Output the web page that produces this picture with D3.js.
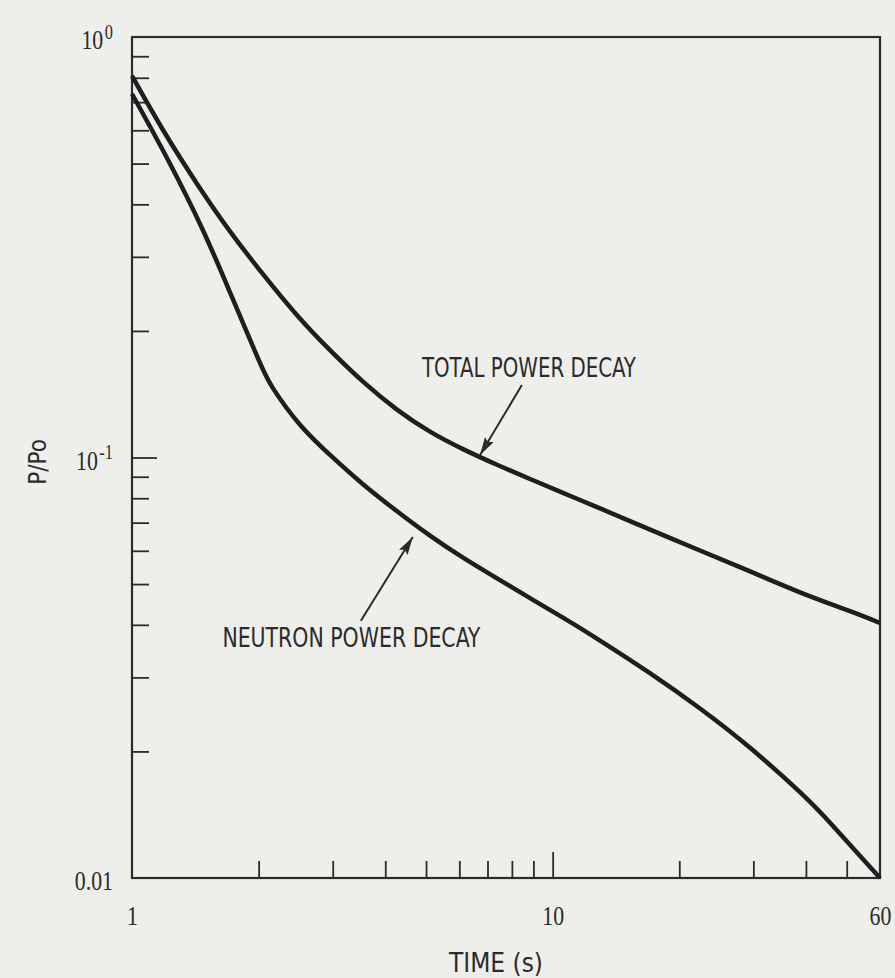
<!DOCTYPE html>
<html>
<head>
<meta charset="utf-8">
<script src="https://cdn.jsdelivr.net/npm/d3@7"></script>
<style>
    body { margin: 0; background: #eeeeeb; }
    svg { display: block; }
    .tick text { font-family: "Liberation Serif", "DejaVu Serif", serif; fill: #2b2b2b; }
    .note { font-family: "Liberation Sans Narrow", "DejaVu Sans Condensed", "Roboto Condensed", sans-serif; font-stretch: condensed; fill: #2b2b2b; }
</style>
</head>
<body>
<div class="container"></div>
<script>
// DATA
const timeTotal = [1, 1.185, 1.427, 1.71, 2.048, 2.468, 2.956, 3.541, 4.266, 5.11, 6.122, 7.374, 8.835, 10.58, 12.75, 15.27, 22.4, 29.46, 38.72, 50.92, 60];
const powerTotal = [0.808, 0.601, 0.448, 0.345, 0.273, 0.218, 0.180, 0.1515, 0.130, 0.1152, 0.1047, 0.0961, 0.0889, 0.0824, 0.0762, 0.0706, 0.0601, 0.0536, 0.0478, 0.0431, 0.0404];

const timeNeutron = [1, 1.218, 1.467, 1.71, 1.993, 2.164, 2.508, 3.005, 3.541, 4.266, 5.11, 6.122, 7.374, 8.835, 10.58, 12.96, 17.03, 22.4, 29.46, 38.72, 46.39, 60];
const powerNeutron = [0.732, 0.51, 0.351, 0.247, 0.172, 0.146, 0.1197, 0.0999, 0.0864, 0.0745, 0.0652, 0.0578, 0.0516, 0.0463, 0.0416, 0.0367, 0.0307, 0.0253, 0.0204, 0.016, 0.0133, 0.01];

// tick values
const xMinorTicks = [2, 3, 4, 5, 6, 7, 8, 9, 20, 30, 40, 50];
const xMajorTicks = [10];
const xTickLabels = [1, 10, 60];
const yMinorTicks = [0.02, 0.03, 0.04, 0.05, 0.06, 0.07, 0.08, 0.09, 0.2, 0.3, 0.4, 0.5, 0.6, 0.7, 0.8, 0.9];
const yMajorTicks = [0.1];
const yTickLabels = [1, 0.1, 0.01];

// annotations, in data units
const noteText = ["TOTAL POWER DECAY", "NEUTRON POWER DECAY"];
const noteTime = [4.89, 1.64];
const notePower = [0.155, 0.0354];
const arrowFromTime = [8.45, 3.50];
const arrowFromPower = [0.1487, 0.0409];
const arrowToTime = [6.72, 4.65];
const arrowToPower = [0.1014, 0.0647];

const ink = "#2b2b2b";
const squeeze = 0.78; // the scanned digits are narrow

const margin = { top: 37, right: 15, bottom: 100, left: 132 };
const width = 895 - margin.left - margin.right,
    height = 978 - margin.top - margin.bottom;

const svg = d3.select(".container")
    .append("svg")
    .attr("width", 895)
    .attr("height", 978);

svg.append("rect")
    .attr("width", 895)
    .attr("height", 978)
    .attr("fill", "#eeeeeb");

const g = svg.append("g")
    .attr("transform", `translate(${margin.left}, ${margin.top})`);

// SCALES
const x = d3.scaleLog().domain([1, 60]).range([0, width]);
const y = d3.scaleLog().domain([0.01, 1]).range([height, 0]);

// AXES - ticks point inwards
function drawAxis(axis, move) {
    const a = g.append("g")
        .attr("transform", move)
        .call(axis);
    a.select(".domain").remove();
    a.selectAll("line").attr("stroke", ink).attr("stroke-width", 1.8);
    return a;
}

drawAxis(d3.axisBottom(x).tickValues(xMinorTicks).tickSize(-17).tickFormat(""), `translate(0, ${height})`);
drawAxis(d3.axisBottom(x).tickValues(xMajorTicks).tickSize(-26).tickFormat(""), `translate(0, ${height})`);
drawAxis(d3.axisLeft(y).tickValues(yMinorTicks).tickSize(-17).tickFormat(""), "");
drawAxis(d3.axisLeft(y).tickValues(yMajorTicks).tickSize(-25).tickFormat(""), "");

const xLabels = drawAxis(d3.axisBottom(x).tickValues(xTickLabels).tickSize(0).tickPadding(27).tickFormat(d3.format("d")), `translate(0, ${height})`);
xLabels.selectAll("text")
    .style("font-size", "28px")
    .attr("transform", `scale(${squeeze}, 1)`);

const yLabels = drawAxis(d3.axisLeft(y).tickValues(yTickLabels).tickSize(0).tickFormat(""), "");
yLabels.selectAll("text")
    .style("font-size", "28px")
    .attr("x", -19 / squeeze)
    .attr("dy", "0.42em")
    .attr("transform", `scale(${squeeze}, 1)`)
    .each(function (d) {
        const t = d3.select(this);
        if (d === 0.01) {
            t.text("0.01");
        } else {
            t.append("tspan").text("10");
            t.append("tspan")
                .attr("dx", 2)
                .attr("dy", "-0.5em")
                .style("font-size", "21px")
                .text(d === 1 ? "0" : "-1");
        }
    });

// FRAME
g.append("rect")
    .attr("width", width)
    .attr("height", height)
    .attr("fill", "none")
    .attr("stroke", ink)
    .attr("stroke-width", 2.2);

// CURVES
const line = d3.line()
    .x(d => x(d[0]))
    .y(d => y(d[1]))
    .curve(d3.curveNatural);

[[timeTotal, powerTotal], [timeNeutron, powerNeutron]].forEach(([ts, ps]) => {
    g.append("path")
        .datum(d3.zip(ts, ps))
        .attr("d", line)
        .attr("fill", "none")
        .attr("stroke", "#1e1e1e")
        .attr("stroke-width", 4.5)
        .attr("stroke-linejoin", "round");
});

// ANNOTATIONS
svg.append("defs")
    .append("marker")
    .attr("id", "arrow")
    .attr("viewBox", "0 0 18 10")
    .attr("refX", 18)
    .attr("refY", 5)
    .attr("markerWidth", 18)
    .attr("markerHeight", 10)
    .attr("markerUnits", "userSpaceOnUse")
    .attr("orient", "auto")
    .append("path")
    .attr("d", "M0,0L18,5L0,10L3,5Z")
    .attr("fill", ink);

const noteWidths = [214, 258];

noteText.forEach((txt, i) => {
    g.append("text")
        .attr("class", "note")
        .attr("x", x(noteTime[i]))
        .attr("y", y(notePower[i]))
        .attr("textLength", noteWidths[i])
        .attr("lengthAdjust", "spacingAndGlyphs")
        .style("font-size", "26px")
        .text(txt);

    g.append("line")
        .attr("x1", x(arrowFromTime[i]))
        .attr("y1", y(arrowFromPower[i]))
        .attr("x2", x(arrowToTime[i]))
        .attr("y2", y(arrowToPower[i]))
        .attr("stroke", ink)
        .attr("stroke-width", 2)
        .attr("marker-end", "url(#arrow)");
});

// AXIS TITLES
svg.append("text")
    .attr("class", "note")
    .attr("x", 496)
    .attr("y", 972)
    .attr("text-anchor", "middle")
    .style("font-size", "26px")
    .text("TIME (s)");

svg.append("text")
    .attr("class", "note")
    .attr("transform", "translate(46, 462) rotate(-90)")
    .attr("text-anchor", "middle")
    .style("font-size", "24px")
    .text("P/Po");
</script>
</body>
</html>
